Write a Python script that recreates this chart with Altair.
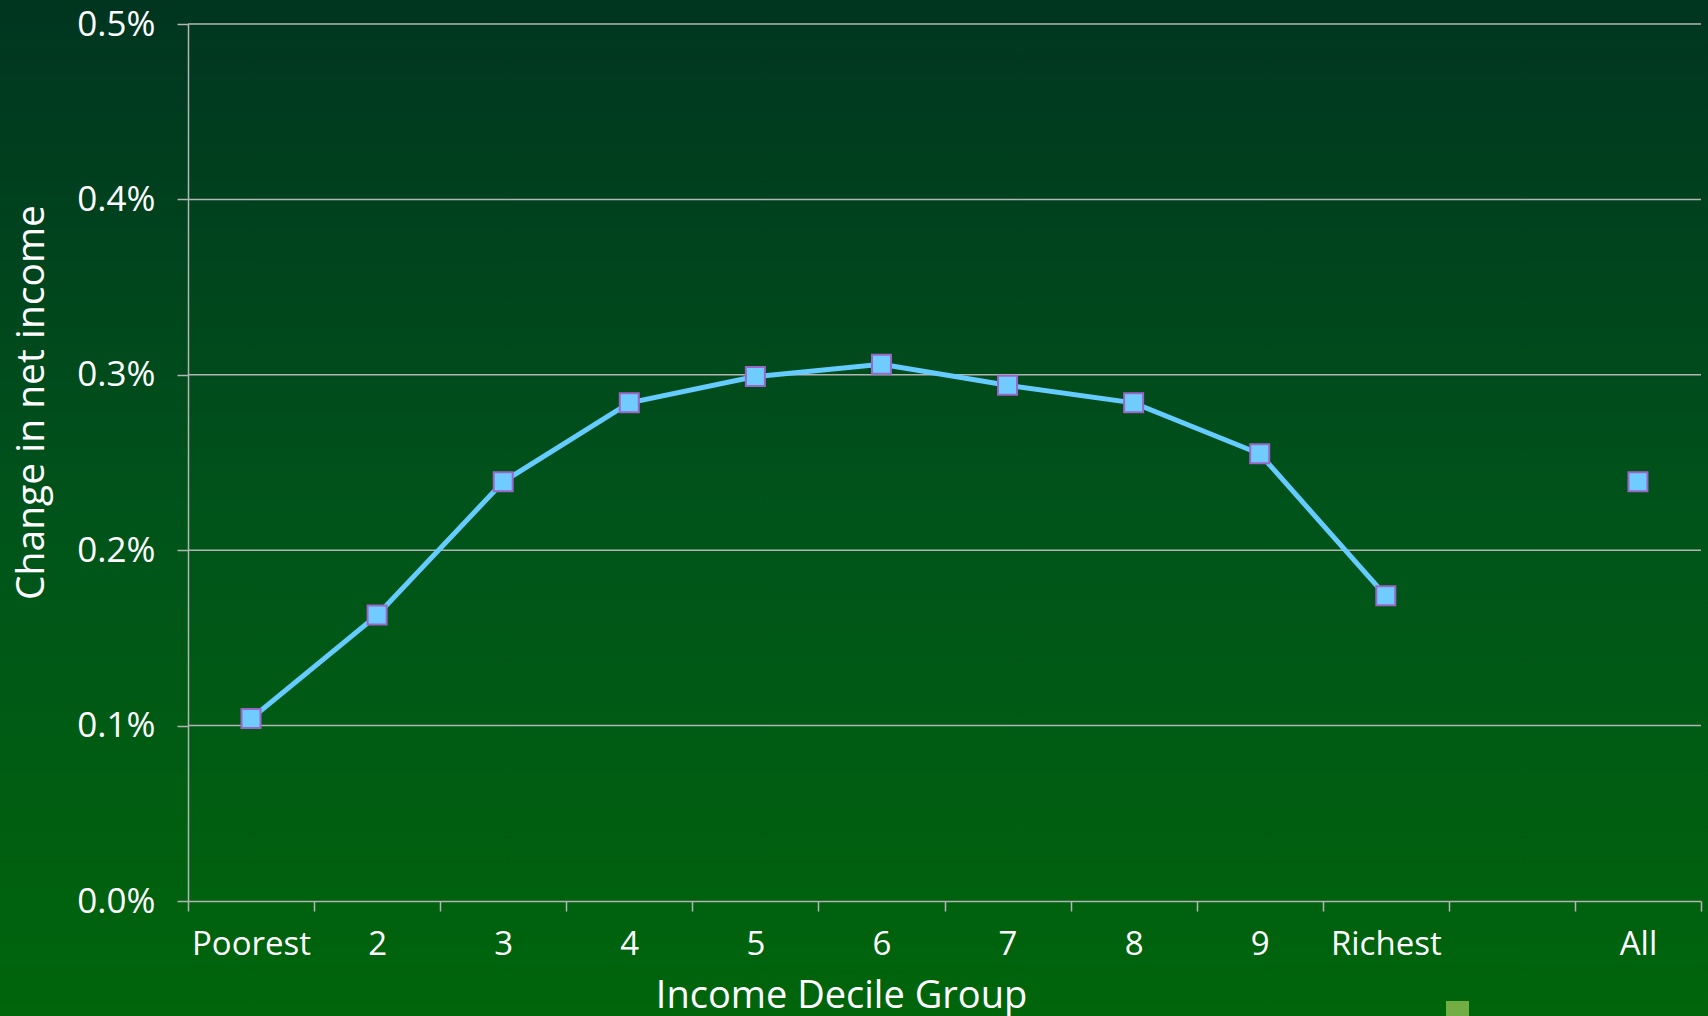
import altair as alt
import pandas as pd

# Change in net income by income decile group (per cent)
deciles = ["Poorest", "2", "3", "4", "5", "6", "7", "8", "9", "Richest"]
decile_change = [0.104, 0.163, 0.239, 0.284, 0.299, 0.306, 0.294, 0.284, 0.255, 0.174]
all_label = "All"
all_change = 0.239

# Category order on the x axis (a blank slot separates "All")
x_domain = deciles + [" ", all_label]
y_ticks = [0, 0.1, 0.2, 0.3, 0.4, 0.5]
y_gridlines = [0.1, 0.2, 0.3, 0.4, 0.5]

W, H = 1513, 877
PAD = {"left": 188, "top": 24, "right": 7, "bottom": 115}
FONT = "Open Sans"

line_df = pd.DataFrame({"group": deciles, "change": decile_change})
point_df = pd.DataFrame({"group": deciles + [all_label],
                         "change": decile_change + [all_change]})
grid_df = pd.DataFrame({"change": y_gridlines})

x_enc = alt.X(
    "group:N",
    scale=alt.Scale(domain=x_domain, type="band", paddingInner=0, paddingOuter=0),
    axis=alt.Axis(
        title="Income Decile Group",
        labelAngle=0,
        labelFontSize=33,
        tickBand="extent",
        tickSize=10,
        labelPadding=17,
        labelBaseline="top",
        titleX=653,
        titleY=106,
        titleAlign="center",
        titleBaseline="alphabetic",
        titleFontSize=38,
        grid=False,
        zindex=1,
    ),
)
y_scale = alt.Scale(domain=[0, 0.5], nice=False)
y_axis = alt.Axis(
    title="Change in net income",
    values=y_ticks,
    labelExpr="format(datum.value, '.1f') + '%'",
    labelFontSize=35,
    tickSize=11,
    labelPadding=22,
    titleAngle=-90,
    titleX=-145,
    titleY=378,
    titleAlign="center",
    titleBaseline="alphabetic",
    titleFontSize=39,
    grid=False,
    zindex=1,
)
y_enc = alt.Y("change:Q", scale=y_scale, axis=y_axis)

# Full-canvas gradient backdrop
backdrop = alt.Chart(alt.Data(values=[{}])).mark_rect(
    fill=alt.Gradient(
        gradient="linear",
        stops=[
            alt.GradientStop(color="#003520", offset=0),
            alt.GradientStop(color="#00531a", offset=0.5),
            alt.GradientStop(color="#00650b", offset=1),
        ],
        x1=0, x2=0, y1=0, y2=1,
    )
).encode(
    x=alt.value(-PAD["left"]),
    x2=alt.value(W + PAD["right"]),
    y=alt.value(-PAD["top"]),
    y2=alt.value(H + PAD["bottom"]),
)

grid = alt.Chart(grid_df).mark_rule(color="#b4b4b4", strokeWidth=1.5).encode(
    y=y_enc,
    x=alt.value(0),
    x2=alt.value(W),
)

line = alt.Chart(line_df).mark_line(color="#66ccff", strokeWidth=5).encode(
    x=x_enc, y=y_enc
)

points = alt.Chart(point_df).mark_square(
    size=361, opacity=1, fill="#70ccff", stroke="#9a66c8", strokeWidth=2
).encode(x=x_enc, y=y_enc)

# Partially visible legend swatch at the bottom edge
swatch = alt.Chart(alt.Data(values=[{}])).mark_rect(color="#72ae44").encode(
    x=alt.value(1258), x2=alt.value(1281), y=alt.value(977), y2=alt.value(1000)
)

chart = (
    alt.layer(backdrop, grid, line, points, swatch)
    .properties(
        width=W,
        height=H,
        padding=PAD,
        autosize=alt.AutoSizeParams(type="none"),
        background="#00650b",
    )
    .configure_view(stroke=None)
    .configure_axis(
        domainColor="#b4b4b4",
        domainWidth=1.5,
        tickColor="#b4b4b4",
        tickWidth=1.5,
        labelColor="white",
        titleColor="white",
        labelFont=FONT,
        titleFont=FONT,
        labelFontWeight="normal",
        titleFontWeight="normal",
    )
)

chart.save("out.html", embed_options={"renderer": "svg", "actions": False})
